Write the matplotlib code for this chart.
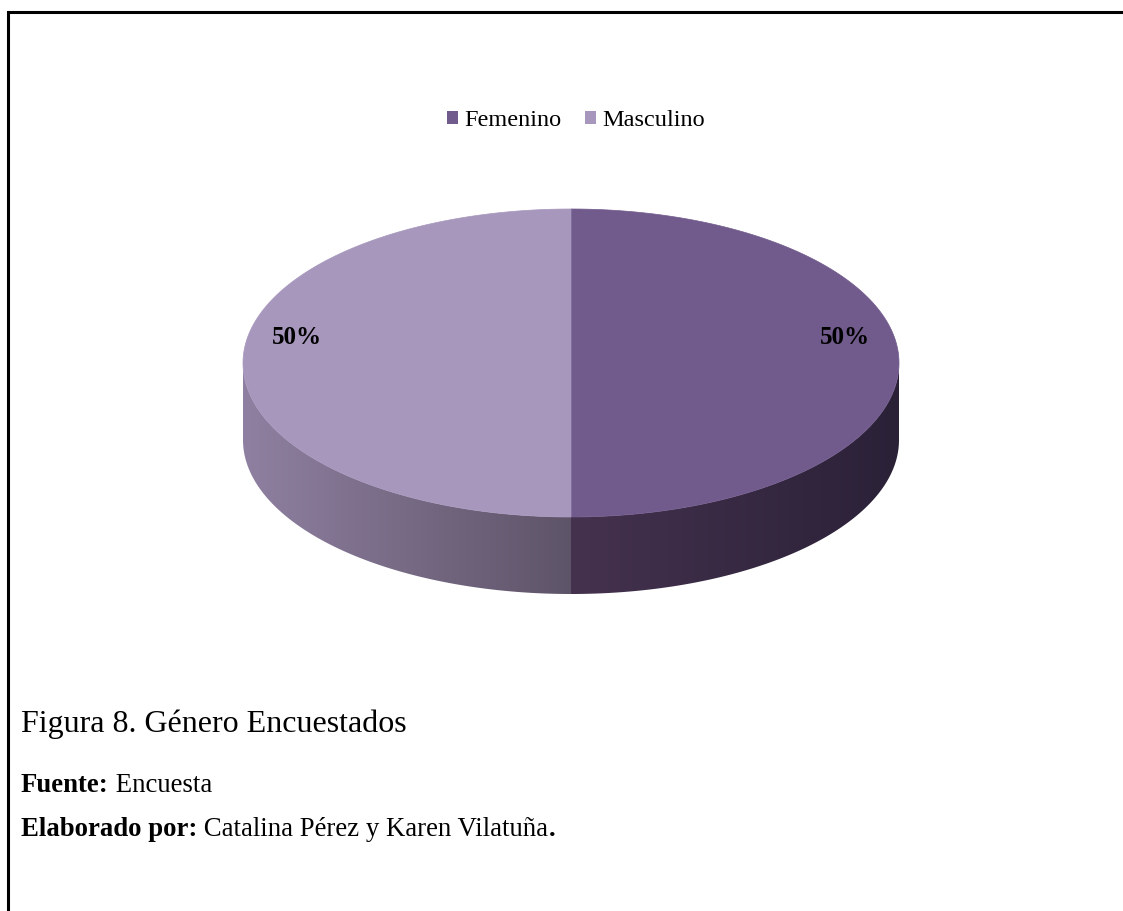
"""Gender split of survey respondents drawn as an extruded (3-D style) pie."""
import numpy as np
import matplotlib as mpl
import matplotlib.pyplot as plt
import matplotlib.patches as mpatches
from matplotlib.colors import LinearSegmentedColormap

mpl.rcParams.update({
    "font.family": ["Liberation Serif", "DejaVu Serif"],
})

categories = ["Femenino", "Masculino"]
shares = [50, 50]
top_colors = ["#715A8C", "#A797BD"]
# side shading: (colour at left end, colour at right end) of each slice wall
side_colors = [("#45324F", "#2A2137"), ("#8F80A1", "#5E5468")]

W, H = 1123, 911
fig = plt.figure(figsize=(W / 100, H / 100), dpi=100)
ax = fig.add_axes([0, 0, 1, 1])
ax.set_xlim(0, W)
ax.set_ylim(H, 0)
ax.set_axis_off()

# page frame (top and left rules only)
ax.plot([7.5, 7.5, W], [H, 12, 12], color="black", lw=2.2,
        solid_joinstyle="miter", zorder=10)

cx, cy, a, b, depth = 571, 363, 328, 154, 77


def edge(theta, dy=0.0):
    return cx + a * np.cos(theta), cy - b * np.sin(theta) + dy


# slices go clockwise starting at 12 o'clock
bounds = 90 - np.concatenate([[0], np.cumsum(shares)]) / sum(shares) * 360
for i, name in enumerate(categories):
    t0, t1 = np.radians(bounds[i]), np.radians(bounds[i + 1])

    # visible front wall: the part of the slice whose angle lies in (180, 360)
    lo, hi = min(t0, t1), max(t0, t1)
    lo_n = lo % (2 * np.pi)
    shift = lo - lo_n
    f_lo, f_hi = max(lo_n, np.pi), min(hi - shift, 2 * np.pi)
    if f_hi > f_lo:
        th = np.linspace(f_lo, f_hi, 200)
        ux, uy = edge(th)
        lx, ly = edge(th[::-1], depth)
        verts = np.column_stack([np.r_[ux, lx], np.r_[uy, ly]])
        wall = mpatches.Polygon(verts, closed=True, facecolor="none",
                                edgecolor="none")
        ax.add_patch(wall)
        cmap = LinearSegmentedColormap.from_list(f"side{i}", side_colors[i])
        grad = np.linspace(0, 1, 256)[None, :]
        im = ax.imshow(grad, cmap=cmap, aspect="auto",
                       extent=[verts[:, 0].min(), verts[:, 0].max(),
                               verts[:, 1].max(), verts[:, 1].min()],
                       zorder=2, interpolation="bilinear")
        im.set_clip_path(wall)

    # top face
    th = np.linspace(t0, t1, 300)
    ex, ey = edge(th)
    top = mpatches.Polygon(np.column_stack([np.r_[cx, ex], np.r_[cy, ey]]),
                           closed=True, facecolor=top_colors[i],
                           edgecolor=top_colors[i], lw=0.5, zorder=3)
    ax.add_patch(top)

    # percentage label near the outer rim
    mid = (t0 + t1) / 2
    lx, ly = edge(mid)
    ax.text(cx + 0.835 * (lx - cx), ly - 25, f"{shares[i]}%",
            ha="center", va="center", fontsize=18, fontweight="bold",
            zorder=5)

handles = [mpatches.Patch(facecolor=c, edgecolor="none", label=n)
           for n, c in zip(categories, top_colors)]
fig.legend(handles=handles, loc="center",
           bbox_to_anchor=(576 / W, 1 - 121 / H),
           ncol=2, frameon=False, fontsize=17.5, handlelength=0.45,
           handleheight=0.45, handletextpad=0.25, columnspacing=1.0)

ax.text(21, 724, "Figura 8. Género Encuestados", fontsize=23,
        va="center", ha="left")
fuente = ax.text(21, 785, "Fuente:", fontsize=19.3, fontweight="bold",
                 va="center", ha="left")
ax.annotate(" Encuesta", xycoords=fuente, xy=(1, 0.5), va="center",
            ha="left", fontsize=19.3)
elab = ax.text(21, 830, "Elaborado por:", fontsize=19.3, fontweight="bold",
               va="center", ha="left")
names = ax.annotate(" Catalina Pérez y Karen Vilatuña", xycoords=elab,
                    xy=(1, 0.5), va="center", ha="left", fontsize=19.3)
ax.annotate(".", xycoords=names, xy=(1, 0.5), va="center", ha="left",
            fontsize=19.3, fontweight="bold")

fig.savefig("out.png", dpi=100, facecolor="white")
